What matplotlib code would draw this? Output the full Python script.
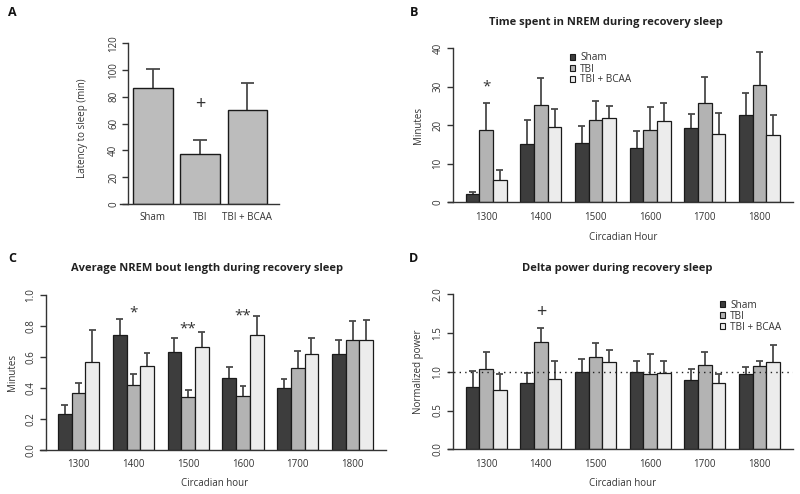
import matplotlib
matplotlib.use("Agg")
import matplotlib.pyplot as plt
from matplotlib.patches import Patch
import numpy as np

plt.rcParams['font.family'] = ['Open Sans', 'DejaVu Sans']

W, H = 800, 494

# ---------------- data ----------------
groups_a = ["Sham", "TBI", "TBI + BCAA"]
latency = [86.5, 37.0, 70.0]
latency_err = [14.5, 10.5, 20.0]

hours = ["1300", "1400", "1500", "1600", "1700", "1800"]
series = ["Sham", "TBI", "TBI + BCAA"]

nrem_sham = [2.2, 15.2, 15.3, 14.1, 19.4, 22.6]
nrem_tbi = [18.8, 25.3, 21.4, 18.7, 25.7, 30.4]
nrem_bcaa = [5.8, 19.6, 21.9, 21.0, 17.7, 17.4]
nrem_sham_err = [0.6, 6.1, 4.6, 4.4, 3.5, 5.9]
nrem_tbi_err = [6.9, 7.0, 4.8, 6.1, 6.8, 8.7]
nrem_bcaa_err = [2.5, 4.6, 3.2, 4.9, 5.6, 5.4]

bout_sham = [0.23, 0.74, 0.63, 0.46, 0.40, 0.62]
bout_tbi = [0.365, 0.415, 0.34, 0.345, 0.53, 0.71]
bout_bcaa = [0.565, 0.54, 0.66, 0.74, 0.62, 0.71]
bout_sham_err = [0.06, 0.105, 0.09, 0.075, 0.055, 0.09]
bout_tbi_err = [0.065, 0.075, 0.047, 0.063, 0.107, 0.122]
bout_bcaa_err = [0.207, 0.086, 0.102, 0.12, 0.10, 0.129]

delta_sham = [0.80, 0.86, 1.00, 1.00, 0.90, 0.975]
delta_tbi = [1.04, 1.39, 1.195, 0.97, 1.085, 1.07]
delta_bcaa = [0.76, 0.91, 1.125, 0.99, 0.85, 1.13]
delta_sham_err = [0.205, 0.12, 0.165, 0.14, 0.13, 0.085]
delta_tbi_err = [0.21, 0.18, 0.175, 0.26, 0.175, 0.07]
delta_bcaa_err = [0.21, 0.23, 0.155, 0.15, 0.12, 0.22]

colors = ["#3d3d3d", "#b3b3b3", "#ececec"]
bar_a_color = "#bcbcbc"
err_color = "#4a4a4a"
axis_color = "#333333"
text_color = "#333333"

fig = plt.figure(figsize=(W / 100, H / 100), dpi=100)


def add_ax(x0, x1, ybot, ytop):
    return fig.add_axes([x0 / W, 1 - ybot / H, (x1 - x0) / W, (ybot - ytop) / H])


def ftext(x, y, s, **kw):
    fig.text(x / W, 1 - y / H, s, **kw)


def style(ax, ymax, yticks, ylabels, spine_x):
    for s in ['top', 'right']:
        ax.spines[s].set_visible(False)
    ax.spines['left'].set_position(('data', spine_x))
    ax.spines['left'].set_bounds(0, ymax)
    ax.spines['left'].set_color(axis_color)
    ax.spines['bottom'].set_color(axis_color)
    ax.spines['left'].set_linewidth(1.0)
    ax.spines['bottom'].set_linewidth(1.0)
    ax.set_ylim(0, ymax)
    ax.set_yticks(yticks)
    ax.set_yticklabels(ylabels, rotation=90, va='center')
    ax.tick_params(axis='y', length=4, width=1, color=axis_color, labelsize=7,
                   pad=2.5, labelcolor=text_color)
    ax.tick_params(axis='x', length=0, labelsize=7, pad=7, labelcolor=text_color)
    ax.patch.set_alpha(0)


def upper_err(ax, x, y, e, cap):
    y = np.asarray(y)
    e = np.asarray(e)
    x = np.asarray(x)
    ax.vlines(x, y, y + e, color=err_color, lw=1.3, zorder=1, clip_on=False)
    ax.hlines(y + e, x - cap, x + cap, color=err_color, lw=1.3, zorder=1, clip_on=False)


def grouped(ax, vals, errs):
    g = np.arange(len(hours))
    for i, (v, e) in enumerate(zip(vals, errs)):
        xs = 4 * g + 1.5 + i
        upper_err(ax, xs, v, e, 0.25)
        ax.bar(xs, v, width=1.0, color=colors[i], edgecolor="#1a1a1a",
               linewidth=0.9, zorder=2, label=series[i])
    ax.set_xticks(4 * g + 2.5)
    ax.set_xticklabels(hours)
    ax.set_xlim(-0.3, 24.95)


def legend(ax, x, y):
    handles = [Patch(facecolor=c, edgecolor="#1a1a1a", linewidth=0.8) for c in colors]
    ax.legend(handles, series, loc='upper left', bbox_to_anchor=(x / W, 1 - y / H),
              bbox_transform=fig.transFigure, frameon=False, fontsize=7.2,
              handlelength=0.5, handleheight=0.45, handletextpad=0.55,
              labelspacing=0.0, borderpad=0, borderaxespad=0,
              labelcolor=text_color)


# ---------------- Panel A ----------------
axA = add_ax(125.4 - 0.14 * 39.3, 125.4 + 3.9 * 39.3, 204, 43.3)
xa = np.array([0.2, 1.4, 2.6]) + 0.5
upper_err(axA, xa, latency, latency_err, 0.17)
axA.bar(xa, latency, width=1.0, color=bar_a_color, edgecolor="#1a1a1a",
        linewidth=1.0, zorder=2)
axA.set_xlim(-0.14, 3.9)
style(axA, 120, [0, 20, 40, 60, 80, 100, 120],
      ["0", "20", "40", "60", "80", "100", "120"], 0.07)
axA.set_xticks(xa)
axA.set_xticklabels(groups_a)
axA.tick_params(axis='x', pad=6)
axA.text(xa[1], 74.5, "+", ha='center', va='center', fontsize=13, color=text_color)
ftext(82, 128, "Latency to sleep (min)", rotation=90, ha='center', va='center',
      fontsize=7, color=text_color)

# ---------------- Panel B ----------------
axB = add_ax(452 - 0.3 * 13.67, 452 + 24.95 * 13.67, 202.3, 48.3)
grouped(axB, [nrem_sham, nrem_tbi, nrem_bcaa],
        [nrem_sham_err, nrem_tbi_err, nrem_bcaa_err])
style(axB, 40, [0, 10, 20, 30, 40], ["0", "10", "20", "30", "40"], 0.05)
axB.text(2.5, 30.0, "*", ha='center', va='center', fontsize=11, color=text_color)
legend(axB, 569.5, 52.5)
ftext(606, 23, "Time spent in NREM during recovery sleep", ha='center', va='center',
      fontsize=8, fontweight='bold', color="#222222")
ftext(623, 237, "Circadian Hour", ha='center', va='center', fontsize=7, color=text_color)
ftext(418, 125, "Minutes", rotation=90, ha='center', va='center', fontsize=7,
      color=text_color)

# ---------------- Panel C ----------------
axC = add_ax(44.3 - 0.3 * 13.7, 44.3 + 24.95 * 13.7, 449.7, 294.7)
grouped(axC, [bout_sham, bout_tbi, bout_bcaa],
        [bout_sham_err, bout_tbi_err, bout_bcaa_err])
style(axC, 1.0, [0, 0.2, 0.4, 0.6, 0.8, 1.0],
      ["0.0", "0.2", "0.4", "0.6", "0.8", "1.0"], 0.1)
axC.text(6.5, 0.88, "*", ha='center', va='center', fontsize=11, color=text_color)
axC.text(10.5, 0.78, "**", ha='center', va='center', fontsize=11, color=text_color)
axC.text(14.5, 0.86, "**", ha='center', va='center', fontsize=11, color=text_color)
ftext(207, 268, "Average NREM bout length during recovery sleep", ha='center',
      va='center', fontsize=8, fontweight='bold', color="#222222")
ftext(215, 483, "Circadian hour", ha='center', va='center', fontsize=7, color=text_color)
ftext(12, 372, "Minutes", rotation=90, ha='center', va='center', fontsize=7,
      color=text_color)

# ---------------- Panel D ----------------
axD = add_ax(452 - 0.3 * 13.67, 452 + 24.95 * 13.67, 449.3, 294.3)
axD.axhline(1.0, xmin=0.0, xmax=1.0, color="#222222", lw=1.0, ls=(0, (1, 3)), zorder=3)
grouped(axD, [delta_sham, delta_tbi, delta_bcaa],
        [delta_sham_err, delta_tbi_err, delta_bcaa_err])
style(axD, 2.0, [0, 0.5, 1.0, 1.5, 2.0], ["0.0", "0.5", "1.0", "1.5", "2.0"], 0.05)
axD.text(6.5, 1.77, "+", ha='center', va='center', fontsize=13, color=text_color)
legend(axD, 719.5, 299.5)
ftext(617, 268, "Delta power during recovery sleep", ha='center', va='center',
      fontsize=8, fontweight='bold', color="#222222")
ftext(623, 483, "Circadian hour", ha='center', va='center', fontsize=7, color=text_color)
ftext(418, 372, "Normalized power", rotation=90, ha='center', va='center', fontsize=7,
      color=text_color)

# panel letters
for lab, x, y in [("A", 12, 13), ("B", 414, 13), ("C", 12, 259), ("D", 414, 259)]:
    ftext(x, y, lab, ha='center', va='center', fontsize=9, fontweight='bold',
          color="#111111")

fig.savefig("out.png", dpi=100)
